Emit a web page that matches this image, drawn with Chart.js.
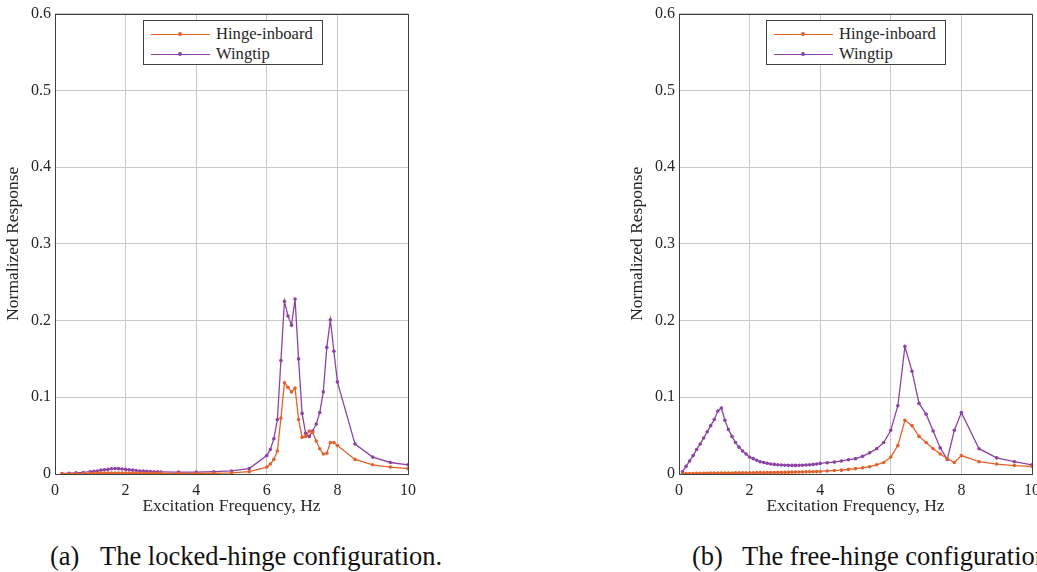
<!DOCTYPE html>
<html>
<head>
<meta charset="utf-8">
<script src="https://cdn.jsdelivr.net/npm/chart.js@4.4.1/dist/chart.umd.min.js"></script>
<style>
    html, body { margin: 0; padding: 0; background: #fff; overflow: hidden; }
    body { width: 1037px; height: 572px; position: relative; font-family: 'Liberation Serif', 'Times New Roman', serif; color: #262626; }
    canvas { position: absolute; top: 0; }
    .legend { position: absolute; top: 20px; width: 178px; height: 43px; border: 1px solid #404040; background: #fff; }
    .legend .row { position: absolute; left: 0; height: 20px; width: 100%; }
    .legend .swatch { position: absolute; left: 7px; top: 9px; width: 59px; height: 0; border-top: 1.3px solid; }
    .legend .dot { position: absolute; left: 27px; top: -3px; width: 4px; height: 4px; border-radius: 50%; }
    .legend .lbl { position: absolute; left: 72px; top: -1px; font-size: 16.6px; line-height: 20px; }
    .caption { position: absolute; top: 541px; font-size: 26.5px; line-height: 30px; color: #111; white-space: nowrap; }
</style>
</head>
<body>
<canvas id="locked-chart" width="430" height="520" style="left:0px"></canvas>
<canvas id="free-chart" width="430" height="520" style="left:624px"></canvas>

<div class="legend" style="left:143px">
    <div class="row" style="top:4px"><div class="swatch" style="border-color:#e4612a"><div class="dot" style="background:#e4612a"></div></div><div class="lbl">Hinge-inboard</div></div>
    <div class="row" style="top:24px"><div class="swatch" style="border-color:#8d43a6"><div class="dot" style="background:#8d43a6"></div></div><div class="lbl">Wingtip</div></div>
</div>
<div class="legend" style="left:766px">
    <div class="row" style="top:4px"><div class="swatch" style="border-color:#e4612a"><div class="dot" style="background:#e4612a"></div></div><div class="lbl">Hinge-inboard</div></div>
    <div class="row" style="top:24px"><div class="swatch" style="border-color:#8d43a6"><div class="dot" style="background:#8d43a6"></div></div><div class="lbl">Wingtip</div></div>
</div>

<div class="caption" style="left:50px">(a)</div>
<div class="caption" style="left:100px">The locked-hinge configuration.</div>
<div class="caption" style="left:692px">(b)</div>
<div class="caption" style="left:742px">The free-hinge configuration.</div>

<script>
// (a) locked hinge
const lockedFreq = [0.2, 0.4, 0.6, 0.8,
    1.0, 1.1, 1.2, 1.3, 1.4, 1.5, 1.6, 1.7, 1.8, 1.9, 2.0, 2.1, 2.2, 2.3, 2.4, 2.5, 2.6, 2.7, 2.8, 2.9, 3.0,
    3.5, 4.0, 4.5, 5.0, 5.5,
    6.0, 6.1, 6.2, 6.3, 6.4, 6.5, 6.6, 6.7, 6.8, 6.9, 7.0, 7.1, 7.2, 7.3, 7.4, 7.5, 7.6, 7.7, 7.8, 7.9, 8.0,
    8.5, 9.0, 9.5, 10.0];
const lockedHinge = [0.0002, 0.0003, 0.0004, 0.0005,
    0.0008, 0.0009, 0.0010, 0.0011, 0.0012, 0.0013, 0.0014, 0.0014, 0.0014, 0.0013, 0.0012, 0.0011, 0.0010, 0.0010, 0.0009, 0.0009, 0.0008, 0.0008, 0.0008, 0.0008, 0.0008,
    0.0008, 0.0009, 0.0010, 0.0015, 0.0030,
    0.009, 0.013, 0.019, 0.030, 0.073, 0.119, 0.113, 0.107, 0.112, 0.071, 0.048, 0.049, 0.056, 0.054, 0.043, 0.033, 0.026, 0.027, 0.041, 0.041, 0.037,
    0.019, 0.012, 0.009, 0.007];
const lockedTip = [0.0005, 0.0010, 0.0015, 0.0020,
    0.0030, 0.0035, 0.0040, 0.0050, 0.0055, 0.0060, 0.0068, 0.0072, 0.0070, 0.0065, 0.0060, 0.0055, 0.0050, 0.0045, 0.0040, 0.0037, 0.0034, 0.0031, 0.0030, 0.0028, 0.0027,
    0.0025, 0.0025, 0.0030, 0.0040, 0.0070,
    0.024, 0.032, 0.046, 0.071, 0.148, 0.225, 0.206, 0.194, 0.228, 0.150, 0.079, 0.053, 0.049, 0.056, 0.065, 0.080, 0.107, 0.165, 0.201, 0.160, 0.120,
    0.039, 0.022, 0.015, 0.012];

// (b) free hinge
const freeFreq = [0.1, 0.2, 0.3, 0.4, 0.5, 0.6, 0.7, 0.8, 0.9, 1.0,
    1.1, 1.2, 1.3, 1.4, 1.5, 1.6, 1.7, 1.8, 1.9, 2.0,
    2.1, 2.2, 2.3, 2.4, 2.5, 2.6, 2.7, 2.8, 2.9, 3.0,
    3.1, 3.2, 3.3, 3.4, 3.5, 3.6, 3.7, 3.8, 3.9, 4.0,
    4.2, 4.4, 4.6, 4.8, 5.0, 5.2, 5.4, 5.6, 5.8, 6.0,
    6.2, 6.4, 6.6, 6.8, 7.0, 7.2, 7.4, 7.6, 7.8, 8.0,
    8.5, 9.0, 9.5, 10.0];
const freeHinge = [0.0003, 0.0005, 0.0006, 0.0007, 0.0008, 0.0009, 0.0010, 0.0010, 0.0011, 0.0012,
    0.0012, 0.0013, 0.0013, 0.0014, 0.0014, 0.0015, 0.0015, 0.0016, 0.0016, 0.0017,
    0.0017, 0.0018, 0.0018, 0.0019, 0.0019, 0.0020, 0.0020, 0.0021, 0.0021, 0.0022,
    0.0023, 0.0024, 0.0025, 0.0026, 0.0027, 0.0028, 0.0029, 0.0030, 0.0031, 0.0033,
    0.0040, 0.0045, 0.0050, 0.0060, 0.0070, 0.0080, 0.0095, 0.0120, 0.0150, 0.022,
    0.037, 0.070, 0.063, 0.049, 0.041, 0.033, 0.026, 0.020, 0.015, 0.024,
    0.016, 0.013, 0.011, 0.010];
const freeTip = [0.003, 0.010, 0.017, 0.024, 0.032, 0.039, 0.047, 0.055, 0.063, 0.071,
    0.082, 0.086, 0.070, 0.058, 0.049, 0.041, 0.035, 0.030, 0.026, 0.022,
    0.020, 0.018, 0.016, 0.015, 0.014, 0.013, 0.0125, 0.0120, 0.0118, 0.0115,
    0.0113, 0.0112, 0.0112, 0.0113, 0.0115, 0.0118, 0.0120, 0.0125, 0.0130, 0.0138,
    0.0147, 0.0155, 0.0170, 0.0186, 0.0200, 0.0230, 0.0276, 0.0330, 0.041, 0.057,
    0.089, 0.166, 0.134, 0.092, 0.078, 0.056, 0.034, 0.019, 0.057, 0.080,
    0.033, 0.021, 0.016, 0.012];

const yTicks = [0, 0.1, 0.2, 0.3, 0.4, 0.5, 0.6];
const xTicks = [0, 2, 4, 6, 8, 10];

const hingeColor = '#e4612a';
const tipColor = '#8d43a6';
const serif = "'Liberation Serif', 'Times New Roman', serif";

// MATLAB style box round the axes
const boxPlugin = {
    id: 'axesBox',
    afterDraw(chart) {
        const a = chart.chartArea;
        const ctx = chart.ctx;
        ctx.save();
        ctx.strokeStyle = '#404040';
        ctx.lineWidth = 1;
        ctx.strokeRect(Math.round(a.left) + 0.5, Math.round(a.top) + 0.5,
            Math.round(a.right - a.left), Math.round(a.bottom - a.top));
        ctx.restore();
    }
};

function toPoints(xs, ys) {
    return xs.map((x, i) => ({ x: x, y: ys[i] }));
}

function makeChart(id, freq, hinge, tip) {
    const canvas = document.getElementById(id);
    return new Chart(canvas, {
        type: 'line',
        data: {
            datasets: [
                {
                    label: 'Hinge-inboard',
                    data: toPoints(freq, hinge),
                    borderColor: hingeColor,
                    backgroundColor: hingeColor,
                    borderWidth: 1.3,
                    pointRadius: 1.8,
                    pointBorderWidth: 0,
                    tension: 0,
                },
                {
                    label: 'Wingtip',
                    data: toPoints(freq, tip),
                    borderColor: tipColor,
                    backgroundColor: tipColor,
                    borderWidth: 1.3,
                    pointRadius: 1.8,
                    pointBorderWidth: 0,
                    tension: 0,
                },
            ],
        },
        options: {
            responsive: false,
            animation: false,
            devicePixelRatio: 1,
            layout: { padding: { top: 11, right: 22, left: 0, bottom: 0 } },
            plugins: {
                legend: { display: false },
                tooltip: { enabled: false },
            },
            scales: {
                x: {
                    type: 'linear',
                    min: 0,
                    max: 10,
                    afterBuildTicks: s => { s.ticks = xTicks.map(v => ({ value: v })); },
                    afterFit: s => { s.height = 46; },
                    grid: { color: '#c8c8c8', drawTicks: false },
                    border: { display: false },
                    ticks: { padding: 7, color: '#262626', font: { family: serif, size: 16 }, maxRotation: 0 },
                    title: { display: true, text: 'Excitation Frequency, Hz', color: '#262626', font: { family: serif, size: 17.5 }, padding: { top: 0, bottom: 3 } },
                },
                y: {
                    min: 0,
                    max: 0.6,
                    afterBuildTicks: s => { s.ticks = yTicks.map(v => ({ value: v })); },
                    afterFit: s => { s.width = 55; },
                    grid: { color: '#c8c8c8', drawTicks: false },
                    border: { display: false },
                    ticks: { padding: 4, color: '#262626', font: { family: serif, size: 16 } },
                    title: { display: true, text: 'Normalized Response', color: '#262626', font: { family: serif, size: 17.5 }, padding: { top: 3, bottom: 0 } },
                },
            },
        },
        plugins: [boxPlugin],
    });
}

makeChart('locked-chart', lockedFreq, lockedHinge, lockedTip);
makeChart('free-chart', freeFreq, freeHinge, freeTip);
</script>
</body>
</html>
